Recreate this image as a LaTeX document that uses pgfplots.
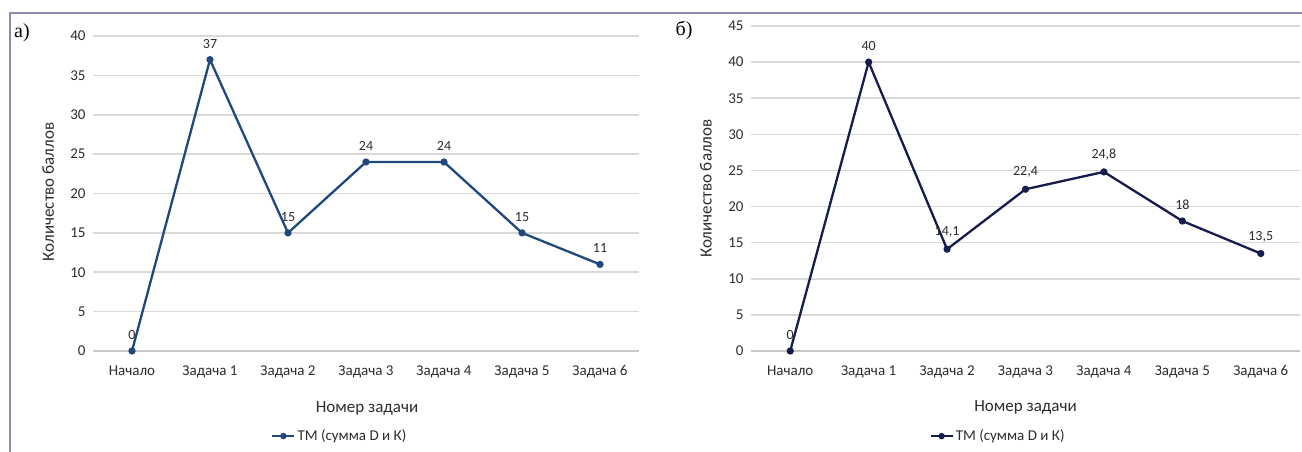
\documentclass[border=0pt]{standalone}
\usepackage{pgfplots}
\pgfplotsset{compat=1.18}
\usepackage{fontspec}
\setmainfont{Carlito}
\newfontfamily\serif{Liberation Serif}
\definecolor{frame}{RGB}{140,140,168}
\definecolor{gridc}{RGB}{217,217,217}
\definecolor{axc}{RGB}{200,200,200}
\definecolor{tickc}{RGB}{45,45,45}
\definecolor{lineA}{RGB}{31,73,125}
\definecolor{lineB}{RGB}{22,28,78}
\pgfplotsset{
  mystyle/.style={
    scale only axis,
    anchor=south west,
    xmin=-0.5, xmax=6.5, ymin=0,
    xtick={0,...,6},
    xticklabels={Начало, Задача 1, Задача 2, Задача 3, Задача 4, Задача 5, Задача 6},
    axis line style={draw=none},
    axis x line*=bottom,
    axis y line*=left,
    major tick length=0pt,
    ymajorgrids,
    grid style={gridc, line width=1.6pt},
    tick label style={font=\fontsize{15}{17}\selectfont, text=tickc},
    xticklabel style={yshift=-11pt},
    yticklabel style={xshift=-4pt},
    /pgf/number format/assume math mode=true,
    /pgf/number format/use comma,
    label style={font=\fontsize{17}{19}\selectfont, text=tickc},
    xlabel={Номер задачи},
    ylabel={Количество баллов},
    nodes near coords,
    every node near coord/.append style={font=\fontsize{14}{16}\selectfont, text=tickc, anchor=south, yshift=7pt},
    legend style={draw=none, fill=none, font=\fontsize{15}{17}\selectfont, text=tickc, anchor=center, legend columns=1},
    legend image code/.code={\draw[#1, mark=none] (0pt,0pt) -- (22pt,0pt); \fill[#1] (11pt,0pt) circle (2pt);},
    clip=false,
  }
}
\begin{document}
\begin{tikzpicture}
\path[use as bounding box] (0,0) rectangle (1302pt,-452pt);
\fill[white] (0,0) rectangle (1302pt,-452pt);
\draw[frame, line width=2.5pt] (10pt,-452pt) -- (10pt,-13pt) -- (1302pt,-13pt);
\node[font=\serif\fontsize{20}{22}\selectfont, anchor=center] at (22pt,-33pt) {а)};
\node[font=\serif\fontsize{20}{22}\selectfont, anchor=center] at (684pt,-30pt) {б)};

\begin{axis}[mystyle, at={(93pt,-351pt)}, width=546pt, height=315pt, ymax=40, ytick={0,5,...,40},
  xlabel style={at={(axis description cs:0.502,-0.181)}, anchor=center},
  ylabel style={at={(axis description cs:-0.082,0.505)}, anchor=center},
  legend style={at={(axis description cs:0.452,-0.27)}}]
\draw[axc, line width=1.6pt] (axis cs:-0.5,0) -- (axis cs:6.5,0);
\addplot[lineA, line width=2.3pt, mark=*, mark size=2.4pt] coordinates {(0,0) (1,37) (2,15) (3,24) (4,24) (5,15) (6,11)};
\addlegendentry{ТМ (сумма D и К)}
\end{axis}

\begin{axis}[mystyle, at={(751pt,-351pt)}, width=549pt, height=325pt, ymax=45, ytick={0,5,...,45},
  xlabel style={at={(axis description cs:0.50,-0.175)}, anchor=center},
  ylabel style={at={(axis description cs:-0.082,0.50)}, anchor=center},
  legend style={at={(axis description cs:0.45,-0.262)}}]
\draw[axc, line width=1.6pt] (axis cs:-0.5,0) -- (axis cs:6.5,0);
\addplot[lineB, line width=2.3pt, mark=*, mark size=2.4pt] coordinates {(0,0) (1,40) (2,14.1) (3,22.4) (4,24.8) (5,18) (6,13.5)};
\addlegendentry{ТМ (сумма D и К)}
\end{axis}
\end{tikzpicture}
\end{document}
